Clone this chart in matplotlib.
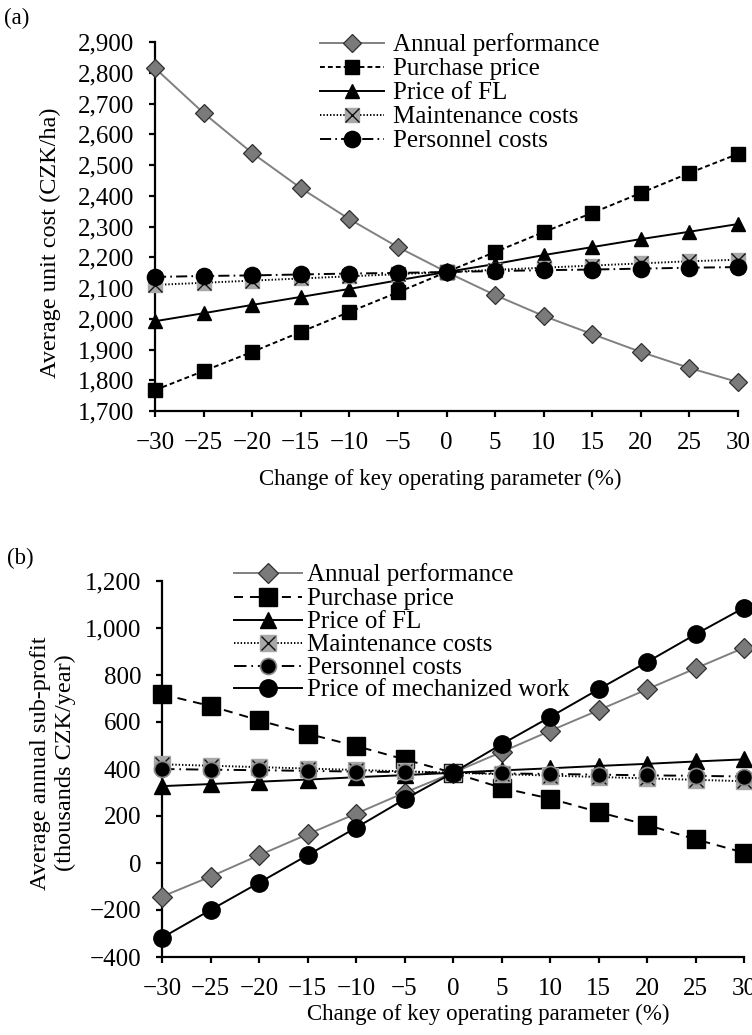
import matplotlib
matplotlib.use("Agg")
import matplotlib.pyplot as plt
from matplotlib.lines import Line2D
from matplotlib.ticker import FuncFormatter

# ---------------- data ----------------
change = [-30, -25, -20, -15, -10, -5, 0, 5, 10, 15, 20, 25, 30]

# panel (a): average unit cost (CZK/ha)
a_annual = [2815, 2669, 2539, 2425, 2324, 2233, 2152, 2077, 2009, 1950, 1892, 1840, 1794]
a_purchase = [1768, 1830, 1892, 1957, 2022, 2086, 2152, 2217, 2282, 2344, 2409, 2474, 2536]
a_fl = [1992, 2018, 2045, 2071, 2097, 2125, 2152, 2178, 2207, 2233, 2259, 2283, 2308]
a_maint = [2110, 2117, 2124, 2131, 2138, 2145, 2152, 2159, 2166, 2173, 2180, 2187, 2192]
a_pers = [2136, 2139, 2141, 2144, 2147, 2149, 2152, 2155, 2158, 2160, 2163, 2166, 2168]

# panel (b): average annual sub-profit (thousands CZK/year)
b_annual = [-143, -58, 33, 122, 210, 299, 384, 472, 562, 650, 739, 828, 916]
b_purchase = [718, 668, 607, 550, 498, 441, 384, 320, 274, 217, 162, 101, 44]
b_fl = [327, 336, 346, 355, 365, 374, 384, 394, 403, 413, 422, 432, 441]
b_maint = [420, 414, 408, 402, 396, 390, 384, 378, 372, 366, 360, 354, 348]
b_pers = [400, 397, 395, 392, 389, 387, 384, 381, 379, 376, 373, 371, 368]
b_mech = [-318, -200, -84, 33, 150, 271, 384, 505, 621, 739, 855, 973, 1086]

labels_a = ["Annual performance", "Purchase price", "Price of FL",
            "Maintenance costs", "Personnel costs"]
labels_b = labels_a + ["Price of mechanized work"]

yticks_a = list(range(1700, 2901, 100))
yticks_b = list(range(-400, 1201, 200))
xticks = change

# ---------------- style ----------------
plt.rcParams['font.family'] = ['Liberation Serif', 'DejaVu Serif']
plt.rcParams['lines.scale_dashes'] = False
TICK_FS = 18
XLAB_FS = 16.5
YLAB_FS = 17.5
LEG_FS = 18

W, H = 752, 1035
fig = plt.figure(figsize=(W / 100, H / 100), dpi=100)


def fx(px):
    return px / W


def fy(py):
    return 1 - py / H


def thousands(v, pos):
    s = f"{int(round(v)):,}"
    return s.replace("-", "\u2212")


def minus(v, pos):
    return f"{int(round(v))}".replace("-", "\u2212")


GRAY = "#808080"
DGRAY = "#7a7a7a"
LGRAY = "#a8a8a8"


def styles(panel):
    if panel == "a":
        dash_purchase = (0, (3.5, 2.2))
        dash_pers = (0, (8, 3, 1.2, 3))
        ms = dict(D=9.5, s=9.5, t=10, m=10, c=11.5, mc=12)
        pers_edge = "black"
    else:
        dash_purchase = (0, (6.5, 5))
        dash_pers = (0, (9, 3.5, 1.2, 3.5))
        ms = dict(D=10, s=12.5, t=11, m=11, c=11.5, mc=12.5)
        pers_edge = "#8a8a8a"
    st = [
        dict(color=GRAY, ls="-", lw=1.4, marker="D", ms=ms["D"], mfc=DGRAY, mec="#303030", mew=0.9),
        dict(color="black", ls=dash_purchase, lw=1.4, marker="s", ms=ms["s"], mfc="black", mec="black"),
        dict(color="black", ls="-", lw=1.4, marker="^", ms=ms["t"], mfc="black", mec="black"),
        dict(color="black", ls=(0, (1.0, 1.4)), lw=1.4, marker="s", ms=ms["m"], mfc=LGRAY, mec=LGRAY),
        dict(color="black", ls=dash_pers, lw=1.4, marker="o", ms=ms["c"], mfc="black", mec=pers_edge, mew=1.2),
        dict(color="black", ls="-", lw=1.4, marker="o", ms=ms["mc"], mfc="black", mec="black"),
    ]
    return st


def draw_panel(ax, series, panel):
    st = styles(panel)
    for i, ys in enumerate(series):
        kw = st[i]
        ax.plot(change, ys, clip_on=False, zorder=3 + i, **kw)
        if i == 3:
            ax.plot(change, ys, ls="none", marker="x", ms=kw["ms"] * 0.95, mec="#111111",
                    mew=1.0, clip_on=False, zorder=3 + i)


def manual_legend(labels, panel, x0, x1, xt, rows):
    st = styles(panel)
    for i, lab in enumerate(labels):
        kw = dict(st[i])
        y = rows[i]
        xm = (x0 + x1) / 2
        ln = Line2D([fx(x0), fx(xm), fx(x1)], [fy(y)] * 3, transform=fig.transFigure,
                    markevery=[1], **kw)
        fig.add_artist(ln)
        if i == 3:
            fig.add_artist(Line2D([fx(xm)], [fy(y)], transform=fig.transFigure, ls="none",
                                  marker="x", ms=kw["ms"] * 0.95, mec="#111111", mew=1.0))
        fig.text(fx(xt), fy(y + 8), lab, fontsize=LEG_FS, ha="left", va="baseline")


def setup_axes(ax, ylim, yticks, fmt):
    ax.set_xlim(-30, 30)
    ax.set_ylim(*ylim)
    ax.set_xticks(xticks)
    ax.set_yticks(yticks)
    ax.xaxis.set_major_formatter(FuncFormatter(minus))
    ax.yaxis.set_major_formatter(FuncFormatter(fmt))
    for s in ["top", "right"]:
        ax.spines[s].set_visible(False)
    for s in ["left", "bottom"]:
        ax.spines[s].set_linewidth(1.6)
    ax.tick_params(direction="out", length=4, width=1.6, labelsize=TICK_FS)
    ax.tick_params(axis="x", pad=11)
    ax.tick_params(axis="y", pad=11)


# ---------------- panel (a) ----------------
axa = fig.add_axes([fx(155), fy(411), fx(738) - fx(155), fy(42) - fy(411)])
setup_axes(axa, (1700, 2900), yticks_a, thousands)
draw_panel(axa, [a_annual, a_purchase, a_fl, a_maint, a_pers], "a")
fig.text(fx(440), fy(479), "Change of key operating parameter (%)", fontsize=XLAB_FS,
         ha="center", va="center")
fig.text(fx(50), fy(243), "Average unit cost (CZK/ha)", fontsize=YLAB_FS, rotation=90,
         ha="center", va="center")
fig.text(fx(4), fy(18), "(a)", fontsize=XLAB_FS, ha="left", va="center")
manual_legend(labels_a, "a", 320, 384, 393, [43, 67, 91, 115, 139])

# ---------------- panel (b) ----------------
axb = fig.add_axes([fx(162), fy(957), fx(744) - fx(162), fy(581) - fy(957)])
setup_axes(axb, (-400, 1200), yticks_b, thousands)
draw_panel(axb, [b_annual, b_purchase, b_fl, b_maint, b_pers, b_mech], "b")
fig.text(fx(488), fy(1014), "Change of key operating parameter (%)", fontsize=XLAB_FS,
         ha="center", va="center")
fig.text(fx(53), fy(763), "Average annual sub-profit\n(thousands CZK/year)", fontsize=YLAB_FS,
         rotation=90, ha="center", va="center", linespacing=1.2, multialignment="center")
fig.text(fx(7), fy(558), "(b)", fontsize=XLAB_FS, ha="left", va="center")
manual_legend(labels_b, "b", 234, 302, 307, [573, 597, 620, 643, 666, 688])

fig.savefig("out.png", dpi=100)
